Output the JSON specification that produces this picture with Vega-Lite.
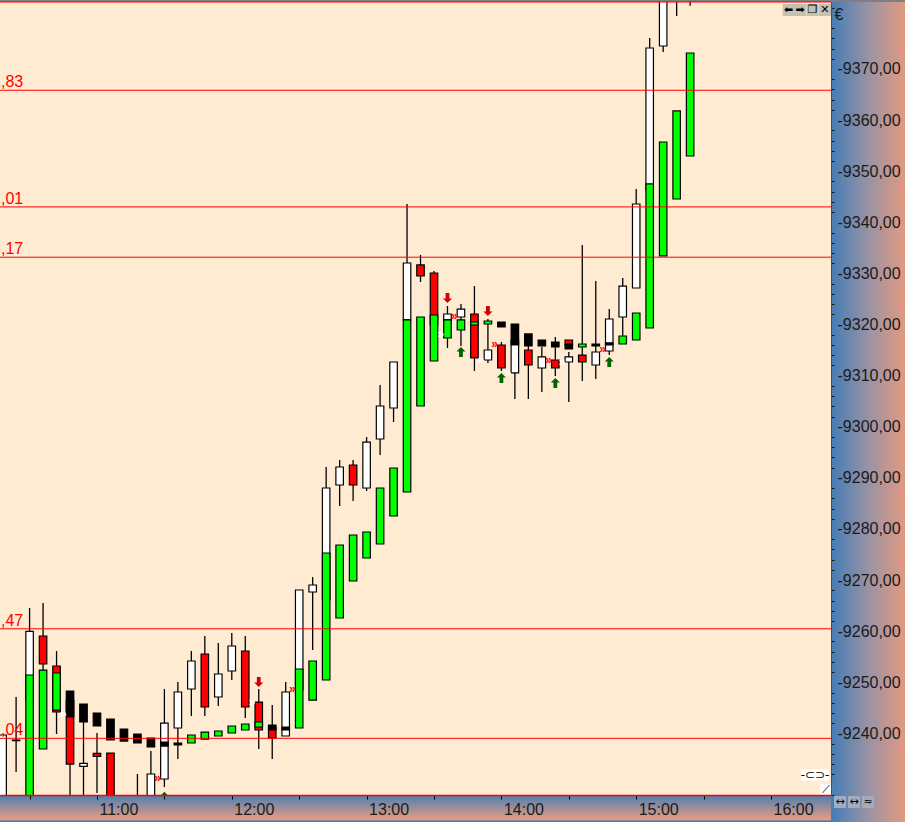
{"$schema":"https://vega.github.io/schema/vega-lite/v6.json","width":831,"height":793,"autosize":"none","padding":{"left":0,"top":2,"right":74,"bottom":27},"background":"#FFEBD2","view":{"fill":"#FFEBD2","stroke":null},"config":{"font":"Liberation Sans"},"resolve":{"axis":{"y":"independent"}},
"datasets":{
"candles":[
{"t":"2024-01-03T10:18","high":9239.69,"low":9224.0,"top":9239.69,"bottom":9224.0,"kind":"up"},
{"t":"2024-01-03T10:24","high":9247.12,"low":9232.45,"top":9238.71,"bottom":9238.6,"kind":"up"},
{"t":"2024-01-03T10:30","high":9264.54,"low":9246.53,"top":9259.98,"bottom":9246.53,"kind":"up"},
{"t":"2024-01-03T10:36","high":9265.51,"low":9252.4,"top":9259.06,"bottom":9253.58,"kind":"down"},
{"t":"2024-01-03T10:42","high":9256.12,"low":9239.88,"top":9253.19,"bottom":9244.19,"kind":"down"},
{"t":"2024-01-03T10:48","high":9246.53,"low":9225.0,"top":9246.53,"bottom":9234.01,"kind":"down"},
{"t":"2024-01-03T10:54","high":9245.75,"low":9225.0,"top":9234.15,"bottom":9233.56,"kind":"up"},
{"t":"2024-01-03T11:00","high":9240.08,"low":9228.34,"top":9236.11,"bottom":9235.52,"kind":"down"},
{"t":"2024-01-03T11:06","high":9236.16,"low":9224.03,"top":9236.16,"bottom":9224.03,"kind":"down"},
{"t":"2024-01-03T11:18","high":9232.06,"low":9224.0,"top":9226.97,"bottom":9224.0,"kind":"up"},
{"t":"2024-01-03T11:24","high":9236.56,"low":9224.03,"top":9232.06,"bottom":9224.03,"kind":"up"},
{"t":"2024-01-03T11:30","high":9248.69,"low":9229.51,"top":9242.03,"bottom":9231.08,"kind":"up"},
{"t":"2024-01-03T11:36","high":9250.06,"low":9234.99,"top":9248.10,"bottom":9241.06,"kind":"up"},
{"t":"2024-01-03T11:42","high":9256.12,"low":9243.40,"top":9254.17,"bottom":9248.69,"kind":"up"},
{"t":"2024-01-03T11:48","high":9259.06,"low":9243.40,"top":9255.54,"bottom":9245.17,"kind":"down"},
{"t":"2024-01-03T11:54","high":9257.69,"low":9245.36,"top":9251.62,"bottom":9247.12,"kind":"up"},
{"t":"2024-01-03T12:00","high":9259.64,"low":9250.45,"top":9257.10,"bottom":9252.21,"kind":"up"},
{"t":"2024-01-03T12:06","high":9259.06,"low":9243.01,"top":9256.12,"bottom":9245.17,"kind":"down"},
{"t":"2024-01-03T12:12","high":9248.69,"low":9236.95,"top":9246.14,"bottom":9240.67,"kind":"down"},
{"t":"2024-01-03T12:18","high":9245.56,"low":9234.99,"top":9241.25,"bottom":9239.10,"kind":"down"},
{"t":"2024-01-03T12:24","high":9250.06,"low":9239.49,"top":9248.10,"bottom":9239.49,"kind":"up"},
{"t":"2024-01-03T12:30","high":9268.06,"low":9248.49,"top":9268.06,"bottom":9248.49,"kind":"up"},
{"t":"2024-01-03T12:36","high":9270.60,"low":9256.32,"top":9269.04,"bottom":9267.67,"kind":"up"},
{"t":"2024-01-03T12:42","high":9292.12,"low":9266.10,"top":9288.01,"bottom":9266.10,"kind":"up"},
{"t":"2024-01-03T12:48","high":9293.49,"low":9284.49,"top":9292.12,"bottom":9288.60,"kind":"up"},
{"t":"2024-01-03T12:54","high":9293.49,"low":9285.47,"top":9292.51,"bottom":9288.60,"kind":"down"},
{"t":"2024-01-03T13:00","high":9297.99,"low":9287.43,"top":9297.00,"bottom":9288.01,"kind":"up"},
{"t":"2024-01-03T13:06","high":9308.17,"low":9294.47,"top":9304.06,"bottom":9297.60,"kind":"up"},
{"t":"2024-01-03T13:12","high":9312.67,"low":9300.93,"top":9312.67,"bottom":9303.67,"kind":"up"},
{"t":"2024-01-03T13:18","high":9343.58,"low":9318.93,"top":9332.04,"bottom":9320.89,"kind":"up"},
{"t":"2024-01-03T13:24","high":9333.60,"low":9328.32,"top":9331.65,"bottom":9329.49,"kind":"down"},
{"t":"2024-01-03T13:30","high":9330.47,"low":9319.91,"top":9330.08,"bottom":9319.91,"kind":"down"},
{"t":"2024-01-03T13:36","high":9323.62,"low":9315.41,"top":9322.06,"bottom":9320.89,"kind":"up"},
{"t":"2024-01-03T13:42","high":9324.01,"low":9315.80,"top":9323.03,"bottom":9321.47,"kind":"up"},
{"t":"2024-01-03T13:48","high":9327.53,"low":9310.91,"top":9322.06,"bottom":9313.45,"kind":"down"},
{"t":"2024-01-03T13:54","high":9321.08,"low":9312.47,"top":9315.01,"bottom":9313.06,"kind":"up"},
{"t":"2024-01-03T14:00","high":9316.58,"low":9310.91,"top":9315.99,"bottom":9311.49,"kind":"down"},
{"t":"2024-01-03T14:06","high":9316.97,"low":9305.43,"top":9316.97,"bottom":9310.52,"kind":"up"},
{"t":"2024-01-03T14:12","high":9315.80,"low":9305.43,"top":9315.01,"bottom":9312.08,"kind":"down"},
{"t":"2024-01-03T14:18","high":9315.60,"low":9306.80,"top":9313.65,"bottom":9311.49,"kind":"up"},
{"t":"2024-01-03T14:24","high":9317.56,"low":9309.92,"top":9313.06,"bottom":9311.49,"kind":"down"},
{"t":"2024-01-03T14:30","high":9316.97,"low":9315.99,"top":9316.97,"bottom":9315.99,"kind":"down"},
{"t":"2024-01-03T14:30","high":9314.62,"low":9304.84,"top":9313.65,"bottom":9312.67,"kind":"up"},
{"t":"2024-01-03T14:36","high":9335.56,"low":9308.95,"top":9314.03,"bottom":9312.67,"kind":"down"},
{"t":"2024-01-03T14:42","high":9328.51,"low":9309.34,"top":9314.62,"bottom":9312.08,"kind":"up"},
{"t":"2024-01-03T14:48","high":9323.03,"low":9314.03,"top":9321.08,"bottom":9314.82,"kind":"up"},
{"t":"2024-01-03T14:54","high":9329.10,"low":9317.56,"top":9327.53,"bottom":9321.47,"kind":"up"},
{"t":"2024-01-03T15:00","high":9346.52,"low":9327.14,"top":9343.58,"bottom":9327.14,"kind":"up"},
{"t":"2024-01-03T15:06","high":9376.06,"low":9346.32,"top":9374.10,"bottom":9346.32,"kind":"up"},
{"t":"2024-01-03T15:12","high":9390.0,"low":9373.32,"top":9387.4,"bottom":9374.49,"kind":"up"},
{"t":"2024-01-03T15:18","high":9390.0,"low":9380.37,"top":9387.4,"bottom":9384.5,"kind":"up"},
{"t":"2024-01-03T15:24","high":9390.0,"low":9382.38,"top":9388.0,"bottom":9385.0,"kind":"up"}
],
"bars":[
{"t":"2024-01-03T10:30","top":9251.43,"bottom":9225.01,"kind":"green"},
{"t":"2024-01-03T10:36","top":9252.4,"bottom":9236.95,"kind":"green"},
{"t":"2024-01-03T10:42","top":9251.82,"bottom":9244.58,"kind":"green"},
{"t":"2024-01-03T10:48","top":9248.30,"bottom":9243.21,"kind":"black"},
{"t":"2024-01-03T10:54","top":9245.75,"bottom":9242.23,"kind":"black"},
{"t":"2024-01-03T11:00","top":9243.99,"bottom":9241.45,"kind":"black"},
{"t":"2024-01-03T11:06","top":9242.82,"bottom":9238.71,"kind":"black"},
{"t":"2024-01-03T11:12","top":9240.86,"bottom":9238.51,"kind":"black"},
{"t":"2024-01-03T11:18","top":9239.88,"bottom":9238.12,"kind":"black"},
{"t":"2024-01-03T11:24","top":9239.10,"bottom":9237.34,"kind":"black"},
{"t":"2024-01-03T11:30","top":9238.32,"bottom":9237.53,"kind":"black"},
{"t":"2024-01-03T11:36","top":9238.12,"bottom":9237.73,"kind":"black"},
{"t":"2024-01-03T11:42","top":9239.69,"bottom":9238.12,"kind":"green"},
{"t":"2024-01-03T11:48","top":9240.27,"bottom":9238.90,"kind":"green"},
{"t":"2024-01-03T11:54","top":9240.47,"bottom":9239.49,"kind":"green"},
{"t":"2024-01-03T12:00","top":9241.45,"bottom":9240.08,"kind":"green"},
{"t":"2024-01-03T12:06","top":9241.84,"bottom":9240.67,"kind":"green"},
{"t":"2024-01-03T12:12","top":9242.23,"bottom":9241.25,"kind":"green"},
{"t":"2024-01-03T12:18","top":9241.64,"bottom":9240.67,"kind":"black"},
{"t":"2024-01-03T12:24","top":9241.25,"bottom":9240.67,"kind":"black"},
{"t":"2024-01-03T12:30","top":9252.60,"bottom":9241.06,"kind":"green"},
{"t":"2024-01-03T12:36","top":9254.17,"bottom":9246.53,"kind":"green"},
{"t":"2024-01-03T12:42","top":9275.30,"bottom":9250.45,"kind":"green"},
{"t":"2024-01-03T12:48","top":9276.86,"bottom":9262.58,"kind":"green"},
{"t":"2024-01-03T12:54","top":9278.82,"bottom":9269.82,"kind":"green"},
{"t":"2024-01-03T13:00","top":9279.41,"bottom":9274.32,"kind":"green"},
{"t":"2024-01-03T13:06","top":9288.01,"bottom":9277.06,"kind":"green"},
{"t":"2024-01-03T13:12","top":9291.93,"bottom":9282.54,"kind":"green"},
{"t":"2024-01-03T13:18","top":9320.89,"bottom":9287.23,"kind":"green"},
{"t":"2024-01-03T13:24","top":9321.47,"bottom":9304.06,"kind":"green"},
{"t":"2024-01-03T13:30","top":9321.86,"bottom":9312.86,"kind":"green"},
{"t":"2024-01-03T13:36","top":9320.89,"bottom":9317.36,"kind":"green"},
{"t":"2024-01-03T13:42","top":9320.89,"bottom":9318.93,"kind":"green"},
{"t":"2024-01-03T13:48","top":9320.49,"bottom":9319.91,"kind":"green"},
{"t":"2024-01-03T13:54","top":9320.69,"bottom":9320.10,"kind":"green"},
{"t":"2024-01-03T14:00","top":9320.49,"bottom":9319.51,"kind":"black"},
{"t":"2024-01-03T14:06","top":9320.10,"bottom":9315.99,"kind":"black"},
{"t":"2024-01-03T14:12","top":9318.15,"bottom":9315.80,"kind":"black"},
{"t":"2024-01-03T14:18","top":9316.97,"bottom":9315.80,"kind":"black"},
{"t":"2024-01-03T14:24","top":9316.58,"bottom":9315.60,"kind":"black"},
{"t":"2024-01-03T14:30","top":9316.19,"bottom":9315.21,"kind":"black"},
{"t":"2024-01-03T14:36","top":9316.19,"bottom":9315.60,"kind":"green"},
{"t":"2024-01-03T14:42","top":9316.19,"bottom":9315.80,"kind":"black"},
{"t":"2024-01-03T14:48","top":9316.39,"bottom":9315.99,"kind":"black"},
{"t":"2024-01-03T14:54","top":9317.75,"bottom":9316.19,"kind":"green"},
{"t":"2024-01-03T15:00","top":9322.25,"bottom":9316.97,"kind":"green"},
{"t":"2024-01-03T15:06","top":9347.50,"bottom":9319.32,"kind":"green"},
{"t":"2024-01-03T15:12","top":9355.71,"bottom":9333.41,"kind":"green"},
{"t":"2024-01-03T15:18","top":9361.78,"bottom":9344.56,"kind":"green"},
{"t":"2024-01-03T15:24","top":9373.12,"bottom":9352.97,"kind":"green"}
],
"levels":[
{"t":"2024-01-03T10:16:50","t2":"2024-01-03T16:26:42","p":9365.83,"label":",83"},
{"t":"2024-01-03T10:16:50","t2":"2024-01-03T16:26:42","p":9343.01,"label":",01"},
{"t":"2024-01-03T10:16:50","t2":"2024-01-03T16:26:42","p":9333.17,"label":",17"},
{"t":"2024-01-03T10:16:50","t2":"2024-01-03T16:26:42","p":9260.47,"label":",47"},
{"t":"2024-01-03T10:16:50","t2":"2024-01-03T16:26:42","p":9239.04,"label":",04"},
{"t":"2024-01-03T10:16:50","t2":"2024-01-03T16:26:42","p":9383.1,"label":""}
],
"chevrons":[
{"t":"2024-01-03T10:45","p":9243.80,"side":"sell"},
{"t":"2024-01-03T12:09","p":9246.14,"side":"sell"},
{"t":"2024-01-03T11:27","p":9231.27,"side":"buy"},
{"t":"2024-01-03T12:27","p":9248.69,"side":"buy"},
{"t":"2024-01-03T13:33","p":9318.15,"side":"sell"},
{"t":"2024-01-03T13:39","p":9321.66,"side":"buy"},
{"t":"2024-01-03T13:51","p":9313.06,"side":"sell"},
{"t":"2024-01-03T13:57","p":9316.19,"side":"buy"},
{"t":"2024-01-03T14:03","p":9310.52,"side":"sell"},
{"t":"2024-01-03T14:21","p":9313.06,"side":"buy"},
{"t":"2024-01-03T14:27","p":9312.67,"side":"sell"},
{"t":"2024-01-03T14:45","p":9315.21,"side":"buy"}
],
"arrowsDown":[
{"t":"2024-01-03T12:12","p":9250.05},
{"t":"2024-01-03T13:36","p":9325.2},
{"t":"2024-01-03T13:54","p":9322.66}
],
"arrowsUp":[
{"t":"2024-01-03T11:30","p":9227.6},
{"t":"2024-01-03T13:42","p":9314.62},
{"t":"2024-01-03T14:00","p":9309.53},
{"t":"2024-01-03T14:24","p":9308.55},
{"t":"2024-01-03T14:48","p":9312.67}
],
"icons":[
{"t":"2024-01-03T16:07:53","p":9381.54,"label":"⬅","bg":"#C4C0B4"},
{"t":"2024-01-03T16:12:54","p":9381.54,"label":"➡","bg":"#C4C0B4"},
{"t":"2024-01-03T16:18:28","p":9381.54,"label":"❐","bg":"#C4C0B4"},
{"t":"2024-01-03T16:24:00","p":9381.54,"label":"✕","bg":"#C4C0B4"},
{"t":"2024-01-03T16:24:30","p":9228.93,"label":"⟋","bg":"#FFFFFF"},
{"t":"2024-01-03T16:30:42","p":9226.58,"label":"↔","bg":"#A3ABC0"},
{"t":"2024-01-03T16:36:56","p":9226.58,"label":"↔","bg":"#A3ABC0"},
{"t":"2024-01-03T16:43:10","p":9226.58,"label":"≈","bg":"#A3ABC0"}
]
},
"encoding":{"x":{"field":"t","type":"temporal","title":null,"scale":{"padding":0,"domain":[{"year":2024,"month":1,"date":3,"hours":10,"minutes":16,"seconds":50},{"year":2024,"month":1,"date":3,"hours":16,"minutes":26,"seconds":42}]},
"axis":{"zindex":1,"grid":false,"domainColor":"#FF0000","domainWidth":1.5,"tickColor":"#000000","tickSize":4,"labelAlign":"left","labelBaseline":"top","labelOffset":2,"labelPadding":2,"labelFontSize":16,"labelColor":"#1A1A1A","labelOverlap":false,"labelBound":false,"labelFlush":false,
"values":[{"year":2024,"month":1,"date":3,"hours":10,"minutes":0},{"year":2024,"month":1,"date":3,"hours":10,"minutes":30},{"year":2024,"month":1,"date":3,"hours":11,"minutes":0},{"year":2024,"month":1,"date":3,"hours":11,"minutes":30},{"year":2024,"month":1,"date":3,"hours":12,"minutes":0},{"year":2024,"month":1,"date":3,"hours":12,"minutes":30},{"year":2024,"month":1,"date":3,"hours":13,"minutes":0},{"year":2024,"month":1,"date":3,"hours":13,"minutes":30},{"year":2024,"month":1,"date":3,"hours":14,"minutes":0},{"year":2024,"month":1,"date":3,"hours":14,"minutes":30},{"year":2024,"month":1,"date":3,"hours":15,"minutes":0},{"year":2024,"month":1,"date":3,"hours":15,"minutes":30},{"year":2024,"month":1,"date":3,"hours":16,"minutes":0}],
"labelExpr":"minutes(datum.value)==0 ? timeFormat(datum.value,'%H:%M') : ''"}}},
"layer":[
{"data":{"values":[{"t":"2024-01-03T16:26:42","t2":"2024-01-03T17:01","p":9222,"p2":9384}]},"mark":{"type":"rect","clip":false,"fill":{"gradient":"linear","x1":0,"y1":0,"x2":1,"y2":0,"stops":[{"offset":0,"color":"#447DB6"},{"offset":0.5,"color":"#9C93A3"},{"offset":1,"color":"#E89A7D"}]}},"encoding":{"x2":{"field":"t2"},"y":{"field":"p","type":"quantitative","title":null,"scale":{"domain":[9227.95,9383.1],"nice":false,"zero":false},
"axis":{"zindex":1,"orient":"right","grid":false,"domainColor":"#FF0000","domainWidth":1,"tickColor":"#1A1A1A","tickSize":3,"tickOpacity":{"condition":{"test":"datum.value % 10 === 0","value":0},"value":1},"labelPadding":3,"labelFontSize":16,"labelColor":"#1A1A1A","labelOverlap":false,"labelBound":false,"labelFlush":false,"labelAlign":"left","labelBaseline":"middle",
"values":[9228,9230,9232,9234,9236,9238,9240,9242,9244,9246,9248,9250,9252,9254,9256,9258,9260,9262,9264,9266,9268,9270,9272,9274,9276,9278,9280,9282,9284,9286,9288,9290,9292,9294,9296,9298,9300,9302,9304,9306,9308,9310,9312,9314,9316,9318,9320,9322,9324,9326,9328,9330,9332,9334,9336,9338,9340,9342,9344,9346,9348,9350,9352,9354,9356,9358,9360,9362,9364,9366,9368,9370,9372,9374,9376,9378,9380,9382],
"labelExpr":"(datum.value % 10 === 0 && datum.value >= 9240 && datum.value <= 9370) ? '-' + replace(format(datum.value,'.2f'),'.',',') : ''"}},"y2":{"field":"p2"}}},
{"data":{"values":[{"t":"2024-01-03T10:16:50","t2":"2024-01-03T16:26:42","p":9227.95,"p2":9222.5}]},"mark":{"type":"rect","clip":false,"fill":{"gradient":"linear","x1":0,"y1":0,"x2":0,"y2":1,"stops":[{"offset":0,"color":"#4A7FB3"},{"offset":0.88,"color":"#E89C80"},{"offset":0.93,"color":"#4A7FB3"},{"offset":1,"color":"#4A7FB3"}]}},"encoding":{"x2":{"field":"t2"},"y":{"field":"p","type":"quantitative","axis":null},"y2":{"field":"p2"}}},
{"data":{"values":[{"t":"2024-01-03T10:16:50","t2":"2024-01-03T17:01","p":9383.1,"p2":9384}]},"mark":{"type":"rect","clip":false,"fill":"#7F7F7F"},"encoding":{"x2":{"field":"t2"},"y":{"field":"p","type":"quantitative","axis":null},"y2":{"field":"p2"}}},
{"data":{"name":"candles"},"mark":{"type":"rule","clip":true,"stroke":"#000000","strokeWidth":1.3},"encoding":{"y":{"field":"high","type":"quantitative","axis":null},"y2":{"field":"low"}}},
{"data":{"name":"candles"},"mark":{"type":"bar","clip":true,"orient":"vertical","size":7.5,"stroke":"#000000","strokeWidth":1.2},"encoding":{"y":{"field":"top","type":"quantitative","axis":null},"y2":{"field":"bottom"},"fill":{"field":"kind","type":"nominal","legend":null,"scale":{"domain":["up","down","green","black"],"range":["#FFFFFF","#FF0000","#00FF00","#000000"]}}}},
{"data":{"name":"bars"},"mark":{"type":"bar","clip":true,"orient":"vertical","size":7.5,"stroke":"#000000","strokeWidth":1.2},"encoding":{"y":{"field":"top","type":"quantitative","axis":null},"y2":{"field":"bottom"},"fill":{"field":"kind","type":"nominal","legend":null,"scale":{"domain":["up","down","green","black"],"range":["#FFFFFF","#FF0000","#00FF00","#000000"]}}}},
{"data":{"name":"levels"},"mark":{"type":"rule","stroke":"#FF0000","strokeWidth":1},"encoding":{"x2":{"field":"t2"},"y":{"field":"p","type":"quantitative","axis":null}}},
{"data":{"name":"levels"},"mark":{"type":"text","align":"left","baseline":"alphabetic","dy":-3,"dx":1,"fontSize":16,"fill":"#FF0000"},"encoding":{"y":{"field":"p","type":"quantitative","axis":null},"text":{"field":"label"}}},
{"data":{"name":"chevrons"},"mark":{"type":"text","fontSize":12,"fontWeight":"bold","align":"center","baseline":"middle"},"encoding":{"y":{"field":"p","type":"quantitative","axis":null},"text":{"value":"»"},"fill":{"field":"side","type":"nominal","legend":null,"scale":{"domain":["sell","buy"],"range":["#FF3030","#2E8B2E"]}}}},
{"data":{"name":"arrowsDown"},"mark":{"type":"point","clip":true,"filled":true,"opacity":1,"size":100,"fill":"#CC0000","stroke":null,"shape":"M-0.38,-1 L0.38,-1 L0.38,0.1 L0.9,0.1 L0,1 L-0.9,0.1 L-0.38,0.1 Z"},"encoding":{"y":{"field":"p","type":"quantitative","axis":null}}},
{"data":{"name":"arrowsUp"},"mark":{"type":"point","clip":true,"filled":true,"opacity":1,"size":100,"fill":"#006400","stroke":null,"shape":"M-0.38,1 L0.38,1 L0.38,-0.1 L0.9,-0.1 L0,-1 L-0.9,-0.1 L-0.38,-0.1 Z"},"encoding":{"y":{"field":"p","type":"quantitative","axis":null}}},
{"data":{"name":"icons"},"mark":{"type":"point","clip":false,"filled":true,"opacity":1,"shape":"square","size":144,"stroke":null},"encoding":{"y":{"field":"p","type":"quantitative","axis":null},"fill":{"field":"bg","type":"nominal","scale":null,"legend":null}}},
{"data":{"name":"icons"},"mark":{"type":"text","clip":false,"fontSize":11,"font":"DejaVu Sans","fill":"#000000","align":"center","baseline":"middle"},"encoding":{"y":{"field":"p","type":"quantitative","axis":null},"text":{"field":"label"}}},
{"data":{"values":[{"t":"2024-01-03T16:19:36","p":9231.86}]},"mark":{"type":"point","filled":true,"opacity":1,"size":784,"fill":"#FFFFFF","stroke":null,"shape":"M-1,-0.4 L1,-0.4 L1,0.4 L-1,0.4 Z"},"encoding":{"y":{"field":"p","type":"quantitative","axis":null}}},
{"data":{"values":[{"t":"2024-01-03T16:19:36","p":9231.86,"label":"-⊂⊃-"}]},"mark":{"type":"text","fontSize":12,"font":"DejaVu Sans","fill":"#000000","align":"center","baseline":"middle"},"encoding":{"y":{"field":"p","type":"quantitative","axis":null},"text":{"field":"label"}}},
{"data":{"values":[{"t":"2024-01-03T16:30:16","p":9380.56,"label":"€"}]},"mark":{"type":"text","clip":false,"fontSize":16,"fill":"#1A1A1A","align":"center","baseline":"middle"},"encoding":{"y":{"field":"p","type":"quantitative","axis":null},"text":{"field":"label"}}}
]}
